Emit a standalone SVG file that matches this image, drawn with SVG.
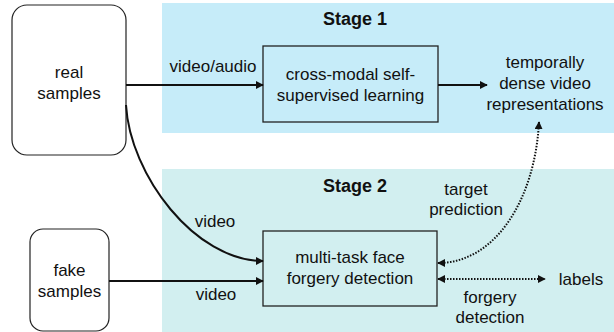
<svg xmlns="http://www.w3.org/2000/svg" width="614" height="332" viewBox="0 0 614 332">
<defs>
<style>
text{font-family:"Liberation Sans",Arial,sans-serif;font-size:17px;fill:#111;text-anchor:middle}
.b{font-weight:bold;font-size:18px;text-anchor:start}
.box{fill:none;stroke:#222;stroke-width:1.3}
.rbox{fill:#fff;stroke:#222;stroke-width:1.2}
.ln{fill:none;stroke:#111;stroke-width:2}
.dot{fill:none;stroke:#111;stroke-width:2;stroke-dasharray:1.5 1.5}
</style>
<marker id="ah" viewBox="0 0 10 10" refX="9" refY="5" markerWidth="4" markerHeight="4" orient="auto-start-reverse"><path d="M0,0L10,5L0,10z" fill="#111"/></marker>
</defs>
<rect x="162" y="3" width="452" height="130" fill="#c6ecf9"/>
<rect x="162" y="169" width="452" height="163" fill="#d2eff0"/>
<text class="b" x="323" y="25">Stage 1</text>
<text class="b" x="323" y="192">Stage 2</text>
<g id="real"><rect class="rbox" x="12" y="5" width="114" height="150" rx="15"/><text x="69" y="78">real</text><text x="69" y="99">samples</text></g>
<g id="fake"><rect class="rbox" x="30" y="229" width="79" height="102" rx="13"/><text x="69.5" y="276">fake</text><text x="69.5" y="297">samples</text></g>
<g id="cross"><rect class="box" x="263" y="46" width="175" height="76"/><text x="350.5" y="80">cross-modal self-</text><text x="350.5" y="101">supervised learning</text></g>
<g id="repr"><text x="545" y="68">temporally</text><text x="545" y="89">dense video</text><text x="545" y="110">representations</text></g>
<g id="multi"><rect class="box" x="263" y="231" width="174" height="75"/><text x="350" y="263">multi-task face</text><text x="350" y="284">forgery detection</text></g>
<g id="labels"><text x="581" y="285">labels</text></g>
<g id="connectors">
<path class="ln" d="M126,85H263" marker-end="url(#ah)"/>
<path class="ln" d="M438,85H487" marker-end="url(#ah)"/>
<path class="ln" d="M126,105C130,175 195,261 263,261" marker-end="url(#ah)"/>
<path class="ln" d="M109,281H263" marker-end="url(#ah)"/>
<path class="dot" d="M539,122C535,200 495,263 438,263" marker-start="url(#ah)" marker-end="url(#ah)"/>
<path class="dot" d="M438,279H545" marker-start="url(#ah)" marker-end="url(#ah)"/>
<text x="213" y="72">video/audio</text>
<text x="215" y="227">video</text>
<text x="216" y="300">video</text>
<text x="466" y="195">target</text>
<text x="466" y="215">prediction</text>
<text x="490" y="303">forgery</text>
<text x="490" y="323">detection</text>
</g>
</svg>
